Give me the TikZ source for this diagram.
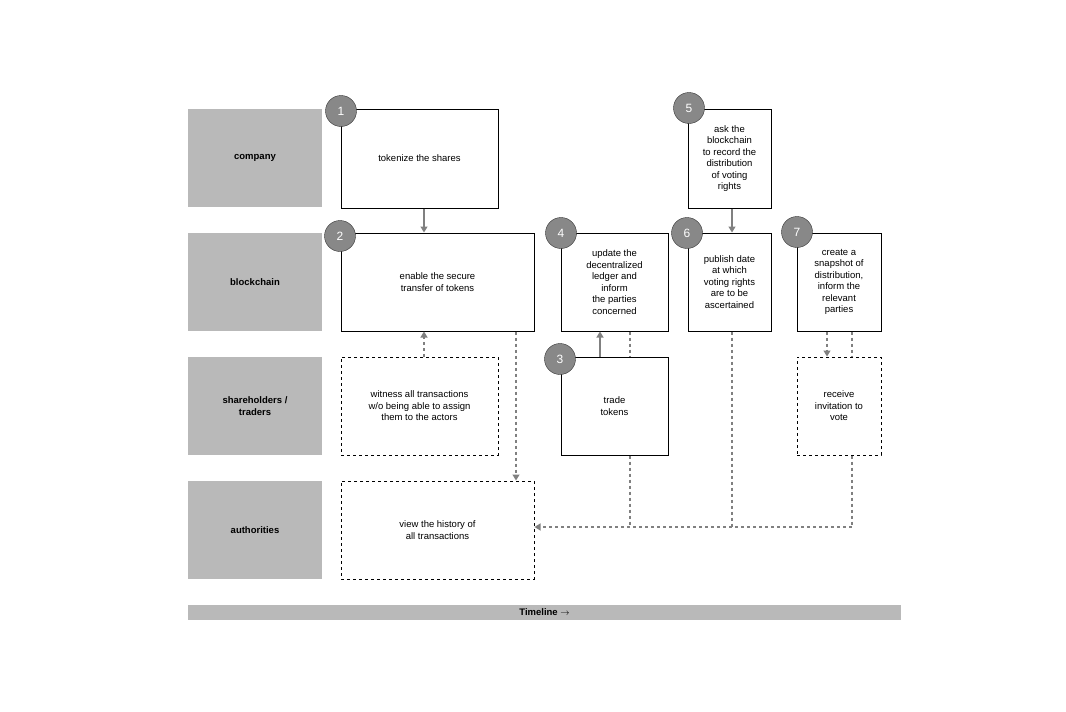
\documentclass[tikz,border=0pt]{standalone}
\usepackage{fontspec}
\setmainfont{Liberation Sans}
\usetikzlibrary{arrows.meta,calc,positioning}

\begin{document}
\begin{tikzpicture}[x=1pt, y=-1pt, font=\fontsize{9.5}{11.5}\selectfont,
    lane/.style={rectangle, fill=gray!55, minimum width=134pt, minimum height=98pt, inner sep=0pt, font=\fontsize{9.5}{11.5}\selectfont\bfseries, align=center},
    task/.style={rectangle, draw, line width=1pt, inner sep=2pt, align=center},
    opt/.style={task, dashed},
    num/.style={circle, fill=gray!90!black!85, draw=gray!40!black, text=white, minimum size=31pt, inner sep=0pt, font=\fontsize{12}{12}\selectfont},
    flow/.style={-{Triangle[width=7pt,length=6pt]}, draw=gray, line width=1.2pt},
    back/.style={flow, dashed},
    link/.style={draw=gray, line width=1.2pt, dashed}]
    \useasboundingbox (0,0) rectangle (1066,712);

    % lanes
    \node[lane] (company) at (255,158) {company};
    \node[lane] (chain) at (255,282) {blockchain};
    \node[lane] (holders) at (255,406) {shareholders /\\traders};
    \node[lane] (auth) at (255,530) {authorities};
    \node[rectangle, fill=gray!55, minimum width=713pt, minimum height=15pt, inner sep=0pt, font=\fontsize{9.5}{11.5}\selectfont\bfseries] (timeline) at (544.5,612.5) {Timeline $\rightarrow$};

    % tasks
    \node[task, minimum width=157pt, minimum height=99pt] (tokenize) at (419.5,158.5) {tokenize the shares};
    \node[task, minimum width=193pt, minimum height=98pt] (transfer) at (437.5,282) {enable the secure\\transfer of tokens};
    \node[task, minimum width=107pt, minimum height=98pt] (trade) at (614.5,406) {trade\\tokens};
    \node[task, minimum width=107pt, minimum height=98pt, inner sep=1pt] (ledger) at (614.5,282) {update the\\decentralized\\ledger and\\inform\\the parties\\concerned};
    \node[task, minimum width=83pt, minimum height=99pt, inner sep=1pt] (ask) at (729.5,158.5) {ask the\\blockchain\\to record the\\distribution\\of voting\\rights};
    \node[task, minimum width=83pt, minimum height=98pt, inner sep=1pt] (publish) at (729.5,282) {publish date\\at which\\voting rights\\are to be\\ascertained};
    \node[task, minimum width=84pt, minimum height=98pt, inner sep=1pt] (snapshot) at (839,282) {create a\\snapshot of\\distribution,\\inform the\\relevant\\parties};
    \node[opt, minimum width=157pt, minimum height=98pt] (witness) at (419.5,406) {witness all transactions\\w/o being able to assign\\them to the actors};
    \node[opt, minimum width=193pt, minimum height=98pt] (history) at (437.5,530) {view the history of\\all transactions};
    \node[opt, minimum width=84pt, minimum height=98pt] (invite) at (839,406) {receive\\invitation to\\vote};

    % numbers
    \node[num] (n1) at (341,111) {1};
    \node[num] (n2) at (340,236) {2};
    \node[num] (n3) at (560,359) {3};
    \node[num] (n4) at (561,233) {4};
    \node[num] (n5) at (689,108) {5};
    \node[num] (n6) at (687,233) {6};
    \node[num] (n7) at (797,232) {7};

    \coordinate (join) at (852,527);

    % connectors
    \draw[flow] (tokenize.south -| 424,0) -- (transfer.north -| 424,0);
    \draw[back] (witness.north -| 424,0) -- (transfer.south -| 424,0);
    \draw[back] (transfer.south -| 516,0) -- (history.north -| 516,0);
    \draw[flow] (trade.north -| 600,0) -- (ledger.south -| 600,0);
    \draw[link] (ledger.south -| 630,0) -- (trade.north -| 630,0);
    \draw[flow] (ask.south -| 732,0) -- (publish.north -| 732,0);
    \draw[back] (snapshot.south -| 827,0) -- (invite.north -| 827,0);
    \draw[link] (snapshot.south -| 852,0) -- (invite.north -| 852,0);
    \draw[back] (invite.south -| 852,0) -- (join) -- (history.east |- join);
    \draw[link] (trade.south -| 630,0) -- (join -| 630,0);
    \draw[link] (publish.south -| 732,0) -- (join -| 732,0);
\end{tikzpicture}
\end{document}
